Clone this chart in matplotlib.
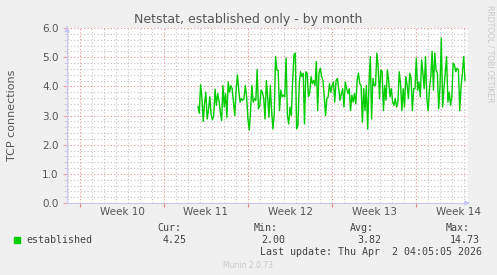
import matplotlib
matplotlib.use("Agg")
import matplotlib.pyplot as plt
import numpy as np

# Munin-style monthly graph: Netstat, established connections
# x axis in days counted from the start of Week 10

title = "Netstat, established only - by month"
ylabel = "TCP connections"
week_labels = ["Week 10", "Week 11", "Week 12", "Week 13", "Week 14"]
week_starts = [0, 7, 14, 21, 28]
x_start, x_end = -1.08, 32.33
data_first_day, data_last_day = 9.83, 32.08

established = [
    3.31, 3.08, 4.06, 3.64, 2.80, 3.40, 3.80, 2.88, 3.17, 3.64,
    3.06, 2.85, 3.00, 3.90, 3.35, 3.75, 3.52, 3.12, 2.83, 4.03,
    3.29, 3.75, 2.94, 4.15, 3.80, 4.03, 3.92, 3.46, 3.00, 3.87,
    4.39, 3.87, 3.46, 3.58, 3.52, 3.58, 4.03, 3.64, 2.88, 2.50,
    3.17, 4.03, 3.46, 3.58, 3.52, 4.58, 3.23, 3.35, 3.87, 3.80,
    3.58, 2.88, 4.20, 3.64, 2.94, 4.03, 3.17, 2.54, 3.06, 5.02,
    4.56, 4.54, 3.17, 3.87, 3.64, 3.70, 3.64, 4.97, 3.00, 2.71,
    3.29, 3.00, 4.20, 5.08, 5.14, 2.54, 2.65, 4.09, 4.50, 4.33,
    4.45, 2.71, 4.50, 4.45, 3.64, 3.80, 4.33, 4.09, 4.20, 4.03,
    4.85, 3.17, 4.45, 4.62, 4.33, 4.20, 3.64, 3.00, 3.58, 3.64,
    4.09,
    3.80, 4.03, 4.15, 3.46, 4.20, 4.27, 3.92, 3.52, 3.75, 3.92,
    3.29, 4.15, 3.92, 3.75, 3.92, 3.17, 3.70, 3.46, 3.75, 3.40,
    4.20, 4.45, 4.09, 4.03, 2.77, 3.92, 3.17, 4.03, 2.54, 4.09,
    5.02, 2.88, 4.27, 4.03, 4.03, 5.14, 4.68, 3.58, 4.56, 4.50,
    3.17, 4.03, 3.52, 4.56, 4.20, 3.64, 3.92, 3.46, 3.35, 3.58,
    3.29, 3.46, 4.50, 4.09, 3.17, 3.92, 3.29, 4.33, 4.03, 3.58,
    4.45, 4.27, 3.17, 3.92, 3.92, 4.97, 3.87, 4.15, 3.64, 4.91,
    4.45, 3.92, 5.02, 3.58, 3.17, 3.92, 4.33, 5.20, 3.87, 5.14,
    4.56, 4.45, 3.23, 3.98, 5.66, 3.29, 3.92, 4.45, 5.02, 3.46,
    3.80, 3.35, 3.64, 4.79, 4.73, 4.50, 4.62, 4.56, 3.17, 3.98,
    4.45, 5.02, 4.20,
]

legend_name = "established"
stats = [("Cur:", "4.25"), ("Min:", "2.00"), ("Avg:", "3.82"), ("Max:", "14.73")]
last_update = "Last update: Thu Apr  2 04:05:05 2026"
version = "Munin 2.0.73"
side_text = "RRDTOOL / TOBI OETIKER"

W, H, DPI = 497, 275, 100
fig = plt.figure(figsize=(W / DPI, H / DPI), dpi=DPI, facecolor="#F0F0F0")
ax = fig.add_axes([67 / W, 1 - 203 / H, (468 - 67) / W, (203 - 28) / H])
ax.set_facecolor("white")

days = np.linspace(data_first_day, data_last_day, len(established))
ax.plot(days, established, color="#00CC00", lw=1.0, zorder=3)

ax.set_xlim(x_start, x_end)
ax.set_ylim(0, 6)

dot = (0, (1, 2))
# minor grid
for d in range(-1, 33):
    if d not in week_starts:
        ax.axvline(d, color="#C4C4C4", lw=0.8, ls=dot, zorder=1)
for v in np.arange(0.2, 6.0, 0.2):
    if abs(v - round(v)) > 1e-6:
        ax.axhline(v, color="#C4C4C4", lw=0.8, ls=dot, zorder=1)
# major grid
for d in week_starts:
    ax.axvline(d, color="#E89090", lw=0.8, ls=dot, zorder=2)
for v in range(1, 7):
    ax.axhline(v, color="#E89090", lw=0.8, ls=dot, zorder=2)

ax.set_yticks(range(0, 7))
ax.set_yticklabels(["%.1f" % v for v in range(0, 7)])
ax.set_yticks(np.arange(0, 6.01, 0.2), minor=True)
ax.set_xticks(week_starts)
ax.set_xticklabels([])
ax.set_xticks([w + 3.5 for w in week_starts], minor=True)
ax.set_xticklabels(week_labels, minor=True)

ax.tick_params(axis="y", which="major", length=3, color="#F0A0A0",
               labelsize=7.5, labelcolor="#555555", pad=3)
ax.tick_params(axis="y", which="minor", length=2, color="#C8C8E8")
ax.tick_params(axis="x", which="major", length=3, color="#F08080", direction="out")
ax.tick_params(axis="x", which="minor", length=0, labelsize=7.5,
               labelcolor="#555555", pad=3)

for side in ["top", "right"]:
    ax.spines[side].set_visible(False)
for side in ["left", "bottom"]:
    ax.spines[side].set_color("#C8C8F0")
    ax.spines[side].set_linewidth(0.8)

# axis arrows
ax.annotate("", xy=(0, 1.025), xytext=(0, 0.99), xycoords="axes fraction",
            arrowprops=dict(arrowstyle="-|>", color="#C8C8F0", lw=0.8,
                            mutation_scale=7), annotation_clip=False)
ax.annotate("", xy=(1.012, 0), xytext=(0.99, 0), xycoords="axes fraction",
            arrowprops=dict(arrowstyle="-|>", color="#C8C8F0", lw=0.8,
                            mutation_scale=7), annotation_clip=False)

fig.text(248 / W, 1 - 19 / H, title, ha="center", va="center",
         fontsize=9.0, color="#555555")
fig.text(12 / W, 1 - 115 / H, ylabel, ha="center", va="center",
         rotation=90, fontsize=8, color="#555555")
fig.text(490 / W, 1 - 5 / H, side_text, ha="center", va="top",
         rotation=270, fontsize=5.5, color="#C8C8C8")

# legend
mono = "DejaVu Sans Mono"
fig.patches.append(plt.Rectangle((14 / W, 1 - 243 / H), 6 / W, 6 / H,
                                 transform=fig.transFigure, color="#00CC00"))
fig.text(26 / W, 1 - 240 / H, legend_name, family=mono, fontsize=7.2,
         color="#444444", va="center")
stat_right = [181, 278, 374, 470]
val_right = [187, 285, 381, 480]
for (lab, val), xr, vr in zip(stats, stat_right, val_right):
    fig.text(xr / W, 1 - 228 / H, lab, family=mono, fontsize=7.2,
             color="#444444", va="center", ha="right")
    fig.text(vr / W, 1 - 240 / H, val, family=mono, fontsize=7.2,
             color="#444444", va="center", ha="right")
fig.text(482 / W, 1 - 252 / H, last_update, family=mono, fontsize=7.2,
         color="#444444", va="center", ha="right")
fig.text(248 / W, 1 - 265 / H, version, ha="center", va="center",
         fontsize=5.5, color="#C8C8C8")

fig.savefig("out.png", dpi=DPI, facecolor=fig.get_facecolor())
